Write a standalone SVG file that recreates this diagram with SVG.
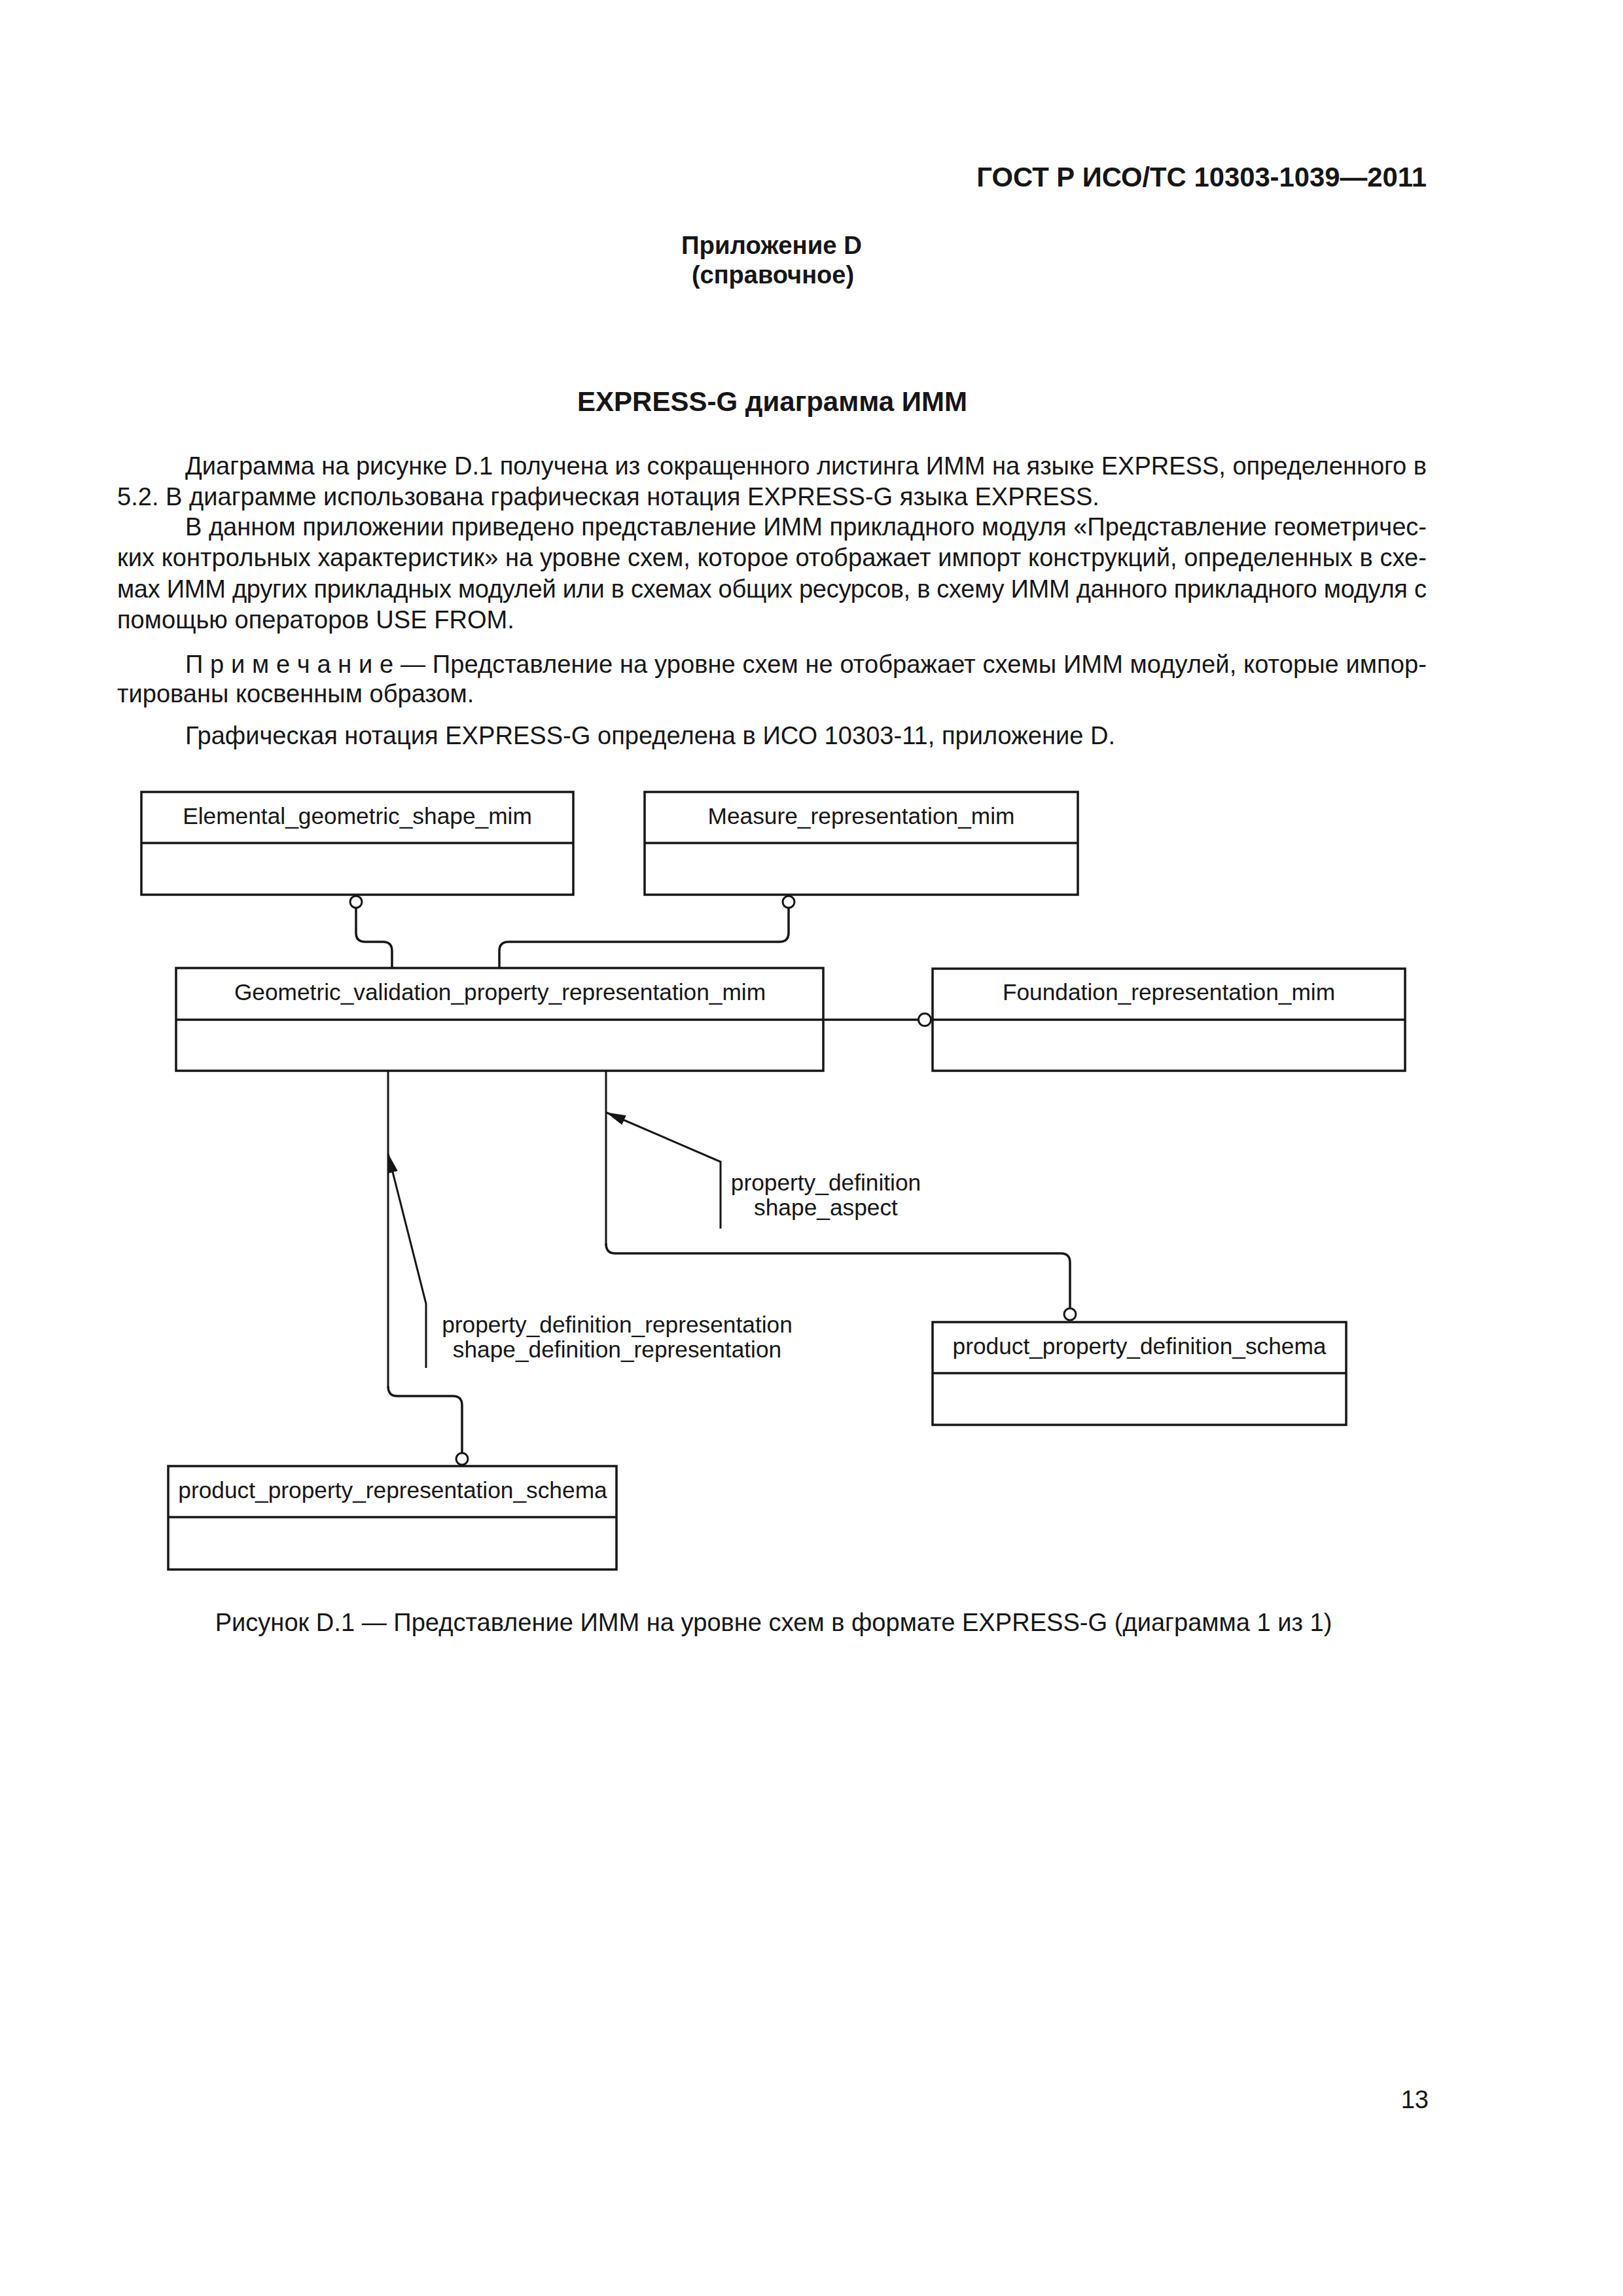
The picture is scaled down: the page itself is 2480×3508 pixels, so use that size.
<svg xmlns="http://www.w3.org/2000/svg" width="2480" height="3508" viewBox="0 0 2480 3508">
<style>
.t{font-family:"Liberation Sans",Arial,sans-serif;fill:#161616}
.body{font-size:38.1px}
.b{font-weight:bold}
.lbl{font-family:"Liberation Sans",Arial,sans-serif;font-size:35.3px;fill:#161616;text-anchor:middle}
.box{fill:none;stroke:#161616;stroke-width:3.5}
.c{fill:none;stroke:#161616;stroke-width:3.5;stroke-linejoin:round}
.thin{fill:none;stroke:#161616;stroke-width:3}
.circ{fill:#fff;stroke:#161616;stroke-width:3}
</style>
<defs>
<marker id="arr" markerUnits="userSpaceOnUse" markerWidth="30" markerHeight="16" refX="29" refY="8" orient="auto">
<path d="M0,0 L30,8 L0,16 z" fill="#161616"/>
</marker>
</defs>
<rect width="2480" height="3508" fill="#fff"/>

<g id="page-text">
<text class="t b" x="2180" y="285" font-size="41.8" text-anchor="end">ГОСТ Р ИСО/ТС 10303-1039—2011</text>
<text class="t b" x="1179" y="388" font-size="38.4" text-anchor="middle">Приложение D</text>
<text class="t b" x="1181" y="433" font-size="38" text-anchor="middle">(справочное)</text>
<text class="t b" x="1180" y="628" font-size="42" text-anchor="middle">EXPRESS-G диаграмма ИММ</text>
<text class="t body" x="283" y="725" textLength="1897" lengthAdjust="spacing">Диаграмма на рисунке D.1 получена из сокращенного листинга ИММ на языке EXPRESS, определенного в</text>
<text class="t body" x="179" y="772">5.2. В диаграмме использована графическая нотация EXPRESS-G языка EXPRESS.</text>
<text class="t body" x="283" y="818" textLength="1897" lengthAdjust="spacing">В данном приложении приведено представление ИММ прикладного модуля «Представление геометричес-</text>
<text class="t body" x="179" y="865" textLength="2001" lengthAdjust="spacing">ких контрольных характеристик» на уровне схем, которое отображает импорт конструкций, определенных в схе-</text>
<text class="t body" x="179" y="913" textLength="2001" lengthAdjust="spacing">мах ИММ других прикладных модулей или в схемах общих ресурсов, в схему ИММ данного прикладного модуля с</text>
<text class="t body" x="179" y="960">помощью операторов USE FROM.</text>
<text class="t body" x="283" y="1028" textLength="1897" lengthAdjust="spacing">П р и м е ч а н и е — Представление на уровне схем не отображает схемы ИММ модулей, которые импор-</text>
<text class="t body" x="179" y="1073">тированы косвенным образом.</text>
<text class="t body" x="283" y="1137">Графическая нотация EXPRESS-G определена в ИСО 10303-11, приложение D.</text>
<text class="t body" x="1182" y="2492" text-anchor="middle">Рисунок D.1 — Представление ИММ на уровне схем в формате EXPRESS-G (диаграмма 1 из 1)</text>
<text class="t body" x="2183" y="3221" text-anchor="end">13</text>
</g>

<g id="connectors">
<path class="c" d="M544,1388 V1425 Q544,1439 558,1439 H585 Q599,1439 599,1453 V1479"/>
<path class="c" d="M1205,1388 V1425 Q1205,1439 1191,1439 H777 Q763,1439 763,1453 V1479"/>
<path class="c" d="M1258,1558 H1404"/>
<path class="thin" d="M926,1636 V1902"/>
<path class="c" d="M926,1900 Q926,1915 940,1915 H1621 Q1635,1915 1635,1929 V1998"/>
<path class="thin" d="M593,1636 V2120"/>
<path class="c" d="M593,2118 Q593,2133 607,2133 H692 Q706,2133 706,2147 V2219"/>
<path class="thin" d="M1101,1877 V1775 L927,1700" marker-end="url(#arr)"/>
<path class="thin" d="M651,2090 V1992 L593,1763" marker-end="url(#arr)"/>
<circle class="circ" cx="544" cy="1378" r="9"/>
<circle class="circ" cx="1205" cy="1378" r="9"/>
<circle class="circ" cx="1413" cy="1558" r="9.5"/>
<circle class="circ" cx="1635" cy="2008" r="9"/>
<circle class="circ" cx="706" cy="2229" r="9"/>
<text class="lbl" x="1262" y="1819">property_definition</text>
<text class="lbl" x="1262" y="1857">shape_aspect</text>
<text class="lbl" x="943" y="2036">property_definition_representation</text>
<text class="lbl" x="943" y="2074">shape_definition_representation</text>
</g>

<g id="elemental">
<rect class="box" x="216" y="1210" width="660" height="157"/>
<line class="box" x1="216" y1="1288" x2="876" y2="1288"/>
<text class="lbl" x="546" y="1259">Elemental_geometric_shape_mim</text>
</g>
<g id="measure">
<rect class="box" x="985" y="1210" width="662" height="157"/>
<line class="box" x1="985" y1="1288" x2="1647" y2="1288"/>
<text class="lbl" x="1316" y="1259">Measure_representation_mim</text>
</g>
<g id="geometric">
<rect class="box" x="269" y="1479" width="989" height="157"/>
<line class="box" x1="269" y1="1558" x2="1258" y2="1558"/>
<text class="lbl" x="764" y="1528">Geometric_validation_property_representation_mim</text>
</g>
<g id="foundation">
<rect class="box" x="1425" y="1480" width="722" height="156"/>
<line class="box" x1="1425" y1="1558" x2="2147" y2="1558"/>
<text class="lbl" x="1786" y="1528">Foundation_representation_mim</text>
</g>
<g id="ppds">
<rect class="box" x="1425" y="2020" width="632" height="157"/>
<line class="box" x1="1425" y1="2098" x2="2057" y2="2098"/>
<text class="lbl" x="1741" y="2069">product_property_definition_schema</text>
</g>
<g id="pprs">
<rect class="box" x="257" y="2240" width="685" height="158"/>
<line class="box" x1="257" y1="2318" x2="942" y2="2318"/>
<text class="lbl" x="600" y="2289">product_property_representation_schema</text>
</g>
</svg>
